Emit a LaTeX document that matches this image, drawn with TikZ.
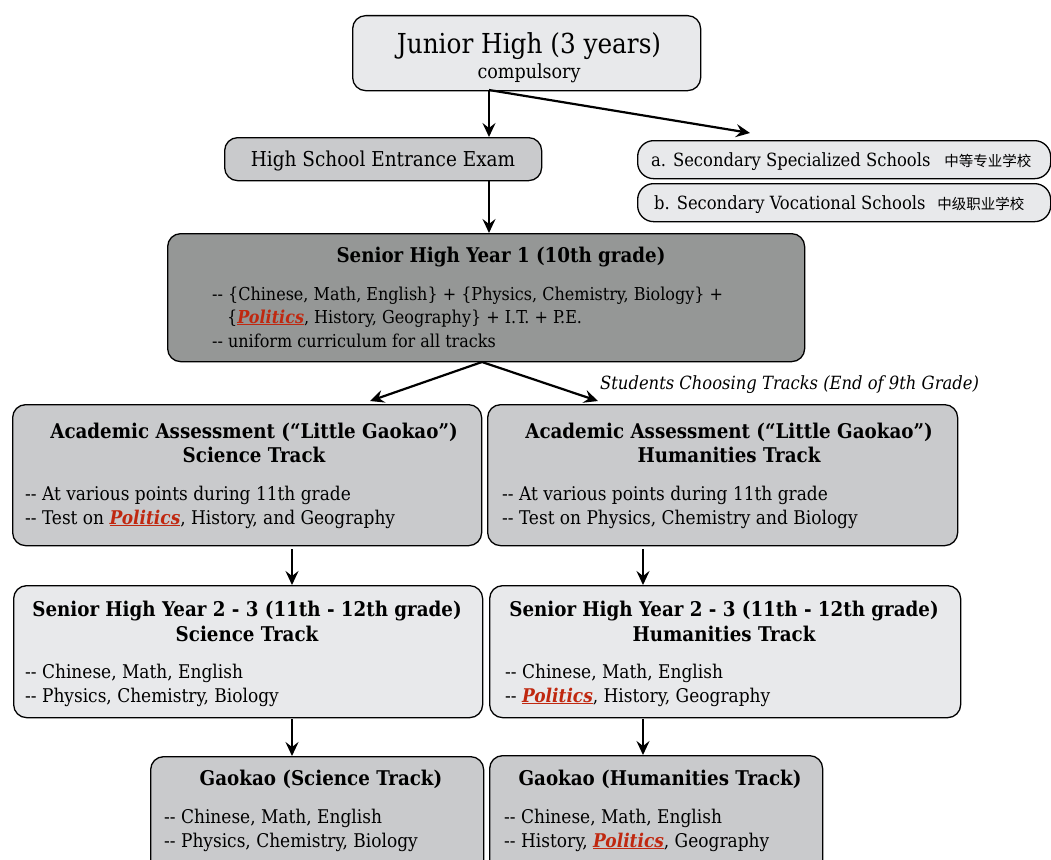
\documentclass[tikz,border=0pt]{standalone}
\usepackage{fontspec}
\setmainfont{DejaVu Serif Condensed}
\newfontfamily\cjk{Noto Sans CJK SC}
\usetikzlibrary{arrows.meta}
\definecolor{lightbox}{RGB}{232,233,235}
\definecolor{midbox}{RGB}{201,202,204}
\definecolor{darkbox}{RGB}{149,151,150}
\definecolor{polred}{RGB}{192,40,16}
\newcommand{\pol}{\textcolor{polred}{\underline{\textbf{\textit{Politics}}}}}
\newcommand{\fs}[1]{\fontsize{#1}{#1}\selectfont}
\newcommand{\dd}{-{}-}
\tikzset{
  box/.style={draw=black, line width=1.3pt, rounded corners=13pt, anchor=north west, inner sep=0pt},
  arr/.style={line width=2.2pt, -{Stealth[length=14pt,width=13pt,inset=5pt]}},
  ttl/.style={anchor=base, inner sep=0pt, font=\fs{20.3}\bfseries},
  bod/.style={anchor=base west, inner sep=0pt, font=\fs{17.8}},
  bodl/.style={anchor=base west, inner sep=0pt, font=\fs{18.9}},
}
\begin{document}
\begin{tikzpicture}[x=1pt,y=-1pt]
\useasboundingbox (0,0) rectangle (1051,859);
\clip (0,0) rectangle (1051,859);
% boxes
\node[box, fill=lightbox, minimum width=348pt, minimum height=75pt] (jh) at (352,15) {};
\node[box, fill=midbox, minimum width=317pt, minimum height=43pt] (ent) at (224,137) {};
\node[box, fill=lightbox, rounded corners=16pt, minimum width=413pt, minimum height=38pt] (sa) at (637,140) {};
\node[box, fill=lightbox, rounded corners=16pt, minimum width=413pt, minimum height=38pt] (sb) at (637,183) {};
\node[box, fill=darkbox, minimum width=637pt, minimum height=128pt] (sh1) at (167,233) {};
\node[box, fill=midbox, minimum width=469pt, minimum height=141pt] (aas) at (12,404) {};
\node[box, fill=midbox, minimum width=470pt, minimum height=141pt] (aah) at (487,404) {};
\node[box, fill=lightbox, minimum width=469pt, minimum height=132pt] (shs) at (13,585) {};
\node[box, fill=lightbox, minimum width=471pt, minimum height=132pt] (shh) at (489,585) {};
\node[box, fill=midbox, minimum width=333pt, minimum height=130pt] (gs) at (150,756) {};
\node[box, fill=midbox, minimum width=333pt, minimum height=130pt] (gh) at (489,755) {};
% texts
\node[anchor=base, inner sep=0pt, font=\fs{27.5}] (t1) at (529,54) {Junior High (3 years)};
\node[anchor=base, inner sep=0pt, font=\fs{19.5}] (t2) at (529,78) {compulsory};
\node[anchor=base, inner sep=0pt, font=\fs{20.5}] (t3) at (383,166) {High School Entrance Exam};
\node[anchor=base west, inner sep=0pt, font=\fs{18.2}] (t4) at (651,166) {a. Secondary Specialized Schools\hspace{14pt}{\cjk\fs{14.5}中等专业学校}};
\node[anchor=base west, inner sep=0pt, font=\fs{18.2}] (t5) at (654,209) {b. Secondary Vocational Schools\hspace{12pt}{\cjk\fs{14.5}中级职业学校}};
\node[ttl] (t6) at (501,262) {Senior High Year 1 (10th grade)};
\node[bod] (t7) at (212,300) {\dd{} \{Chinese, Math, English\} + \{Physics, Chemistry, Biology\} +};
\node[bod] (t8) at (227,323) {\{\pol, History, Geography\} + I.T. + P.E.};
\node[bod] (t9) at (212,347) {\dd{} uniform curriculum for all tracks};
\node[anchor=base west, inner sep=0pt, font=\fs{18.2}\itshape] (lab) at (600,389) {Students Choosing Tracks (End of 9th Grade)};
\node[ttl] (a1) at (254,438) {Academic Assessment (“Little Gaokao”)};
\node[ttl] (a2) at (254,462) {Science Track};
\node[bodl] (a3) at (25,500) {\dd{} At various points during 11th grade};
\node[bodl] (a4) at (25,524) {\dd{} Test on \pol, History, and Geography};
\node[ttl] (b1) at (729,438) {Academic Assessment (“Little Gaokao”)};
\node[ttl] (b2) at (729,462) {Humanities Track};
\node[bodl] (b3) at (502,500) {\dd{} At various points during 11th grade};
\node[bodl] (b4) at (502,524) {\dd{} Test on Physics, Chemistry and Biology};
\node[ttl] (c1) at (247,616) {Senior High Year 2 - 3 (11th - 12th grade)};
\node[ttl] (c2) at (247,641) {Science Track};
\node[bodl] (c3) at (25,678) {\dd{} Chinese, Math, English};
\node[bodl] (c4) at (25,702) {\dd{} Physics, Chemistry, Biology};
\node[ttl] (d1) at (724,616) {Senior High Year 2 - 3 (11th - 12th grade)};
\node[ttl] (d2) at (724,641) {Humanities Track};
\node[bodl] (d3) at (505,678) {\dd{} Chinese, Math, English};
\node[bodl] (d4) at (505,702) {\dd{} \pol, History, Geography};
\node[ttl] (e1) at (321,785) {Gaokao (Science Track)};
\node[bodl] (e3) at (164,823) {\dd{} Chinese, Math, English};
\node[bodl] (e4) at (164,847) {\dd{} Physics, Chemistry, Biology};
\node[ttl] (f1) at (660,785) {Gaokao (Humanities Track)};
\node[bodl] (f3) at (504,823) {\dd{} Chinese, Math, English};
\node[bodl] (f4) at (504,847) {\dd{} History, \pol, Geography};
% connectors
\coordinate (s1) at (489,90);
\coordinate (ta) at (750,133);
\draw[arr] (s1) -- (s1 |- ent.north);
\draw[arr] (s1) -- (ta);
\coordinate (s2) at (489,180);
\draw[arr] (s2) -- (s2 |- sh1.north);
\coordinate (s3) at (482,362);
\coordinate (ls) at (370,401);
\coordinate (rs) at (598,401);
\draw[arr] (s3) -- (ls);
\draw[arr] (s3) -- (rs);
\coordinate (s4) at (292,549);
\coordinate (s5) at (643,549);
\draw[arr] (s4) -- (s4 |- shs.north);
\draw[arr] (s5) -- (s5 |- shh.north);
\coordinate (s6) at (292,719);
\coordinate (s7) at (643,719);
\draw[arr] (s6) -- (s6 |- gs.north);
\draw[arr] (s7) -- (s7 |- gh.north);
\end{tikzpicture}
\end{document}
